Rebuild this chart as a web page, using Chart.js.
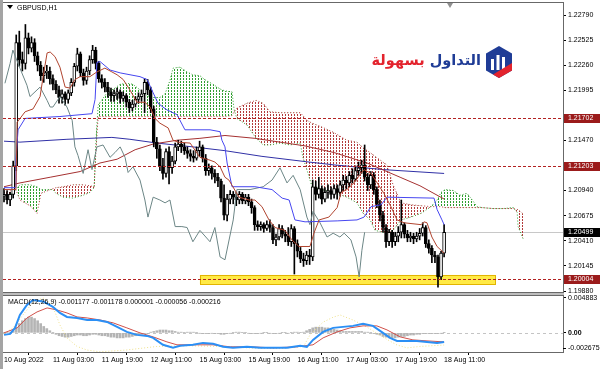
<!DOCTYPE html>
<html>
<head>
<meta charset="utf-8">
<script src="https://cdn.jsdelivr.net/npm/chart.js@4.4.0/dist/chart.umd.min.js"></script>
<style>
  html, body { margin: 0; padding: 0; background: #fff; }
  #wrap { position: relative; width: 600px; height: 369px; overflow: hidden; background: #fff;
          font-family: "Liberation Sans", Arial, sans-serif; }
  canvas { position: absolute; left: 0; }
  #main { top: 0; }
  #macd { top: 293px; }
  #edge { position: absolute; left: 0; top: 0; width: 3px; height: 369px; background: #a4a4a4; }
  #title { position: absolute; left: 7px; top: 4px; font-size: 7px; color: #000; }
  #title i { display: inline-block; width: 0; height: 0; border-left: 3px solid transparent;
             border-right: 3px solid transparent; border-top: 4px solid #000; margin-right: 4px; vertical-align: 1px; }
  #shift { position: absolute; left: 447px; top: 3px; width: 0; height: 0; border-left: 3px solid transparent;
           border-right: 3px solid transparent; border-top: 5px solid #909090; }
  #logo { position: absolute; right: 119px; top: 52px; direction: rtl; white-space: nowrap;
          font-family: "DejaVu Sans", sans-serif; font-weight: bold; font-size: 14.5px; }
  #logo .b { color: #1f3c96; }
  #logo .r { color: #e3232d; }
  #icon { position: absolute; left: 484px; top: 45px; }
</style>
</head>
<body>
<div id="wrap">
  <canvas id="main" width="600" height="300"></canvas>
  <canvas id="macd" width="600" height="76"></canvas>
  <div id="edge"></div>
  <div id="title"><i></i>GBPUSD,H1</div>
  <div id="shift"></div>
  <div id="logo"><span class="b">التداول</span> <span class="r">بسهولة</span></div>
  <svg id="icon" width="30" height="34" viewBox="0 0 30 34">
    <polygon points="15,1 28,8.5 28,25.5 15,33 2,25.5 2,8.5" fill="#1f3c96"/>
    <rect x="7" y="14" width="3" height="11" fill="#fff"/>
    <rect x="12.5" y="10" width="3" height="15" fill="#fff"/>
    <rect x="18" y="12" width="3" height="13" fill="#fff"/>
    <polygon points="28,18 28,25.5 15,33 9,29.5" fill="#e3232d"/>
  </svg>
</div>
<script>
// --- chart values ---
const timeLabels = ['10 Aug 2022', '11 Aug 03:00', '11 Aug 19:00', '12 Aug 11:00', '15 Aug 03:00',
                    '15 Aug 19:00', '16 Aug 11:00', '17 Aug 03:00', '17 Aug 19:00', '18 Aug 11:00'];
const tickBars = [0, 16, 32, 48, 64, 80, 96, 112, 128, 144];
const priceTicks = [1.22790, 1.22525, 1.22260, 1.21995, 1.21470, 1.20940, 1.20675, 1.20410, 1.20145, 1.19880];
const levels = [1.21702, 1.21203, 1.20004];
const lastPrice = 1.20499;
const zoneBars = [64.1, 160.7];
const zonePrices = [1.20050, 1.19955];

const open = [
  1.2088,1.2090,1.2084,1.2090,1.2120,1.2250,1.2232,1.2228,1.2255,1.2244,
  1.2250,1.2236,1.2226,1.2215,1.2218,1.2220,1.2212,1.2206,1.2200,1.2192,
  1.2196,1.2190,1.2197,1.2208,1.2225,1.2238,1.2218,1.2210,1.2220,1.2232,
  1.2242,1.2228,1.2212,1.2208,1.2203,1.2198,1.2194,1.2196,1.2198,1.2191,
  1.2194,1.2187,1.2181,1.2185,1.2190,1.2193,1.2196,1.2208,1.2200,1.2180,
  1.2145,1.2138,1.2120,1.2112,1.2135,1.2118,1.2125,1.2140,1.2143,1.2140,
  1.2136,1.2133,1.2130,1.2128,1.2136,1.2140,1.2128,1.2115,1.2118,1.2112,
  1.2108,1.2104,1.2086,1.2068,1.2085,1.2090,1.2087,1.2084,1.2090,1.2083,
  1.2087,1.2082,1.2076,1.2058,1.2056,1.2058,1.2054,1.2058,1.2055,1.2042,
  1.2045,1.2054,1.2048,1.2046,1.2040,1.2054,1.2038,1.2030,1.2022,1.2020,
  1.2026,1.2024,1.2098,1.2090,1.2096,1.2085,1.2092,1.2094,1.2090,1.2096,
  1.2092,1.2100,1.2105,1.2102,1.2110,1.2106,1.2115,1.2118,1.2121,1.2108,
  1.2100,1.2110,1.2095,1.2080,1.2068,1.2055,1.2040,1.2050,1.2040,1.2046,
  1.2050,1.2058,1.2048,1.2044,1.2046,1.2043,1.2046,1.2049,1.2055,1.2038,
  1.2033,1.2026,1.2024,1.2003,1.2028];
const high = [
  1.2096,1.2094,1.2092,1.2125,1.2258,1.2262,1.2240,1.2269,1.2260,1.2256,
  1.2254,1.2240,1.2230,1.2224,1.2226,1.2224,1.2216,1.2210,1.2204,1.2200,
  1.2198,1.2200,1.2212,1.2228,1.2244,1.2240,1.2222,1.2224,1.2236,1.2247,
  1.2245,1.2230,1.2216,1.2212,1.2208,1.2202,1.2200,1.2202,1.2200,1.2198,
  1.2196,1.2190,1.2189,1.2193,1.2197,1.2200,1.2212,1.2211,1.2203,1.2183,
  1.2150,1.2142,1.2128,1.2138,1.2140,1.2130,1.2144,1.2147,1.2146,1.2144,
  1.2140,1.2137,1.2136,1.2140,1.2146,1.2142,1.2132,1.2122,1.2120,1.2116,
  1.2112,1.2106,1.2100,1.2090,1.2094,1.2093,1.2092,1.2093,1.2092,1.2090,
  1.2090,1.2085,1.2078,1.2062,1.2061,1.2060,1.2062,1.2063,1.2058,1.2048,
  1.2058,1.2057,1.2052,1.2055,1.2058,1.2056,1.2042,1.2034,1.2028,1.2030,
  1.2032,1.2105,1.2104,1.2108,1.2099,1.2097,1.2100,1.2098,1.2100,1.2100,
  1.2104,1.2110,1.2109,1.2114,1.2117,1.2120,1.2124,1.2126,1.2142,1.2112,
  1.2114,1.2113,1.2098,1.2084,1.2072,1.2058,1.2053,1.2052,1.2050,1.2056,
  1.2084,1.2060,1.2052,1.2050,1.2049,1.2050,1.2054,1.2060,1.2057,1.2042,
  1.2036,1.2030,1.2026,1.2030,1.2058];
const low = [
  1.2082,1.2080,1.2078,1.2086,1.2115,1.2225,1.2220,1.2222,1.2238,1.2240,
  1.2230,1.2220,1.2210,1.2208,1.2212,1.2206,1.2200,1.2196,1.2186,1.2186,
  1.2184,1.2186,1.2194,1.2204,1.2220,1.2214,1.2205,1.2206,1.2216,1.2228,
  1.2222,1.2208,1.2202,1.2198,1.2192,1.2188,1.2188,1.2190,1.2186,1.2188,
  1.2182,1.2176,1.2178,1.2182,1.2186,1.2188,1.2176,1.2195,1.2176,1.2140,
  1.2128,1.2115,1.2106,1.2108,1.2101,1.2112,1.2122,1.2136,1.2134,1.2132,
  1.2128,1.2125,1.2124,1.2126,1.2130,1.2124,1.2110,1.2110,1.2106,1.2102,
  1.2098,1.2082,1.2063,1.2062,1.2080,1.2080,1.2078,1.2080,1.2080,1.2080,
  1.2078,1.2070,1.2052,1.2052,1.2052,1.2050,1.2052,1.2050,1.2038,1.2036,
  1.2042,1.2044,1.2040,1.2036,1.2035,1.2006,1.2024,1.2018,1.2014,1.2016,
  1.2016,1.2020,1.2084,1.2086,1.2080,1.2082,1.2086,1.2085,1.2086,1.2085,
  1.2088,1.2094,1.2096,1.2098,1.2102,1.2104,1.2110,1.2112,1.2104,1.2094,
  1.2096,1.2090,1.2076,1.2062,1.2050,1.2034,1.2036,1.2034,1.2036,1.2040,
  1.2044,1.2044,1.2040,1.2040,1.2038,1.2040,1.2042,1.2046,1.2034,1.2028,
  1.2018,1.2018,1.1992,1.2000,1.2024];
const close = [
  1.2090,1.2084,1.2090,1.2120,1.2250,1.2232,1.2228,1.2255,1.2244,1.2250,
  1.2236,1.2226,1.2215,1.2218,1.2220,1.2212,1.2206,1.2200,1.2192,1.2196,
  1.2190,1.2197,1.2208,1.2225,1.2238,1.2218,1.2210,1.2220,1.2232,1.2242,
  1.2228,1.2212,1.2208,1.2203,1.2198,1.2194,1.2196,1.2198,1.2191,1.2194,
  1.2187,1.2181,1.2185,1.2190,1.2193,1.2196,1.2208,1.2200,1.2180,1.2145,
  1.2138,1.2120,1.2112,1.2135,1.2118,1.2125,1.2140,1.2143,1.2140,1.2136,
  1.2133,1.2130,1.2128,1.2136,1.2140,1.2128,1.2115,1.2118,1.2112,1.2108,
  1.2104,1.2086,1.2068,1.2085,1.2090,1.2087,1.2084,1.2090,1.2083,1.2087,
  1.2082,1.2076,1.2058,1.2056,1.2058,1.2054,1.2058,1.2055,1.2042,1.2045,
  1.2054,1.2048,1.2046,1.2040,1.2054,1.2038,1.2030,1.2022,1.2020,1.2026,
  1.2024,1.2098,1.2090,1.2096,1.2085,1.2092,1.2094,1.2090,1.2096,1.2092,
  1.2100,1.2105,1.2102,1.2110,1.2106,1.2115,1.2118,1.2121,1.2108,1.2100,
  1.2110,1.2095,1.2080,1.2068,1.2055,1.2040,1.2050,1.2040,1.2046,1.2050,
  1.2058,1.2048,1.2044,1.2046,1.2043,1.2046,1.2049,1.2055,1.2038,1.2033,
  1.2026,1.2024,1.2003,1.2028,1.2050];

// ichimoku lines as [bar, price]
const tenkan = [[0,1.2095],[3.9,1.2095],[4.3,1.2166],[6.9,1.2177],[9.5,1.2180],[11.8,1.2193],[12.8,1.2214],
  [14.1,1.2239],[15.1,1.2240],[16.7,1.2235],[18.3,1.2224],[20,1.2203],[21.6,1.2202],[23.2,1.2211],[24.9,1.2214],
  [28.1,1.2214],[30.4,1.2219],[33,1.2223],[35.3,1.2219],[37,1.2216],[39,1.2211],[41.2,1.2200],[43.5,1.2187],
  [46.1,1.2187],[47.8,1.2182],[49.4,1.2170],[51,1.2165],[53.7,1.2160],[55.3,1.2147],[56.9,1.2145],[60.9,1.2144],
  [64.1,1.2129],[67.4,1.2126],[69,1.2124],[70.7,1.2119],[72.3,1.2108],[73.6,1.2105],[76.9,1.2087],[80.2,1.2084],
  [82.1,1.2084],[84.4,1.2077],[86.7,1.2063],[88.7,1.2055],[91.9,1.2052],[94.2,1.2042],[96.5,1.2035],[100.1,1.2035],
  [101.4,1.2049],[103.1,1.2063],[106.3,1.2066],[109,1.2076],[110.3,1.2092],[112.2,1.2095],[114.5,1.2102],
  [116.8,1.2112],[117.8,1.2116],[120.1,1.2112],[122.1,1.2102],[124.3,1.2091],[126.6,1.2077],[128.6,1.2063],
  [130.9,1.2060],[136.5,1.2058],[137.4,1.2061],[138.4,1.2060],[140,1.2045],[141.7,1.2035],[144,1.2028]];
const kijun = [[0,1.2097],[3.6,1.2097],[3.9,1.2126],[4.6,1.2158],[6.9,1.2170],[18.3,1.2172],[28.8,1.2175],
  [29.8,1.2190],[30.4,1.2229],[31.4,1.2230],[34.7,1.2221],[38,1.2218],[44.5,1.2214],[46.8,1.2211],[48.8,1.2197],
  [50.4,1.2186],[52,1.2182],[53.3,1.2179],[56.6,1.2174],[59.2,1.2158],[67.4,1.2158],[70.7,1.2156],[71.3,1.2147],
  [72.3,1.2140],[73,1.2123],[74.6,1.2098],[82.1,1.2098],[87.7,1.2095],[91,1.2086],[93.3,1.2084],[95.2,1.2063],
  [98.5,1.2061],[109,1.2062],[115.5,1.2063],[117.8,1.2066],[120.1,1.2077],[123.4,1.2079],[125.3,1.2087],
  [140.7,1.2086],[141.7,1.2074],[143.3,1.2063],[144,1.2058]];
const chikou = [[0.3,1.2207],[2,1.2228],[2.9,1.2242],[5.2,1.2223],[7.5,1.2205],[8.5,1.2193],[10.8,1.2200],
  [11.8,1.2203],[14.1,1.2189],[15.1,1.2182],[16,1.2182],[18.3,1.2193],[20.6,1.2182],[22.3,1.2168],[23.2,1.2140],
  [24.2,1.2131],[25.9,1.2112],[27.5,1.2137],[28.8,1.2116],[30.4,1.2140],[32.4,1.2142],[34.7,1.2129],[36.3,1.2134],
  [38,1.2140],[39.6,1.2129],[40.6,1.2113],[42.2,1.2119],[44.5,1.2105],[46.1,1.2084],[47.1,1.2066],[48.8,1.2087],
  [51,1.2084],[52.7,1.2081],[54.3,1.2084],[56,1.2056],[58.2,1.2056],[59.9,1.2055],[61.8,1.2040],[64.1,1.2052],
  [67.4,1.2040],[69,1.2055],[70.7,1.2024],[72.3,1.2021],[75,1.2063],[76.2,1.2095],[80.5,1.2095],[84.8,1.2098],
  [87.7,1.2105],[90.3,1.2118],[92.6,1.2102],[94.6,1.2110],[96.9,1.2095],[99.1,1.2066],[100.1,1.2058],
  [101.1,1.2072],[103.4,1.2060],[105.7,1.2045],[107.7,1.2049],[109.9,1.2045],[111.3,1.2049],[113.5,1.2042],
  [115.2,1.2024],[116.2,1.2003],[117.1,1.2031],[118,1.2050]];
// cloud as [bar, span A, span B]
const cloud = [[0,1.2084,1.2092],[3.9,1.2095,1.2095],[5.2,1.2100,1.2084],[8.5,1.2100,1.2078],[10.8,1.2098,1.2070],
  [12.1,1.2095,1.2091],[16,1.2095,1.2096],[17,1.2091,1.2097],[19.3,1.2087,1.2098],[22.6,1.2086,1.2100],
  [25.9,1.2089,1.2100],[28.1,1.2092,1.2099],[29.5,1.2097,1.2098],[30.1,1.2147,1.2137],[30.8,1.2184,1.2172],
  [33.7,1.2197,1.2172],[36.3,1.2202,1.2172],[38,1.2206,1.2172],[40.2,1.2207,1.2172],[42.2,1.2206,1.2172],
  [44.5,1.2200,1.2172],[46.8,1.2194,1.2172],[49,1.2192,1.2172],[51,1.2192,1.2172],[52.7,1.2196,1.2172],
  [54.3,1.2210,1.2172],[55.3,1.2223,1.2172],[57.6,1.2224,1.2172],[59.9,1.2219,1.2172],[61.8,1.2216,1.2172],
  [64.1,1.2215,1.2172],[66.1,1.2210,1.2172],[68.4,1.2206,1.2172],[70.7,1.2201,1.2172],[72.3,1.2199,1.2172],
  [74.6,1.2198,1.2173],[75.3,1.2179,1.2177],[76.2,1.2170,1.2181],[79.5,1.2163,1.2186],[82.5,1.2149,1.2189],
  [84.8,1.2142,1.2186],[87,1.2142,1.2177],[90.3,1.2144,1.2176],[93.6,1.2142,1.2176],[96.9,1.2144,1.2176],
  [97.8,1.2129,1.2173],[99.1,1.2116,1.2168],[100.8,1.2098,1.2165],[104,1.2095,1.2161],[108,1.2092,1.2155],
  [112.2,1.2087,1.2147],[115.5,1.2081,1.2145],[117.5,1.2070,1.2139],[119.8,1.2063,1.2134],[121.4,1.2052,1.2130],
  [125.3,1.2049,1.2121],[127.3,1.2052,1.2100],[129.9,1.2063,1.2081],[133.2,1.2066,1.2079],[136.5,1.2070,1.2078],
  [139.7,1.2077,1.2077],[141.7,1.2084,1.2077],[143,1.2092,1.2077],[144.3,1.2095,1.2076],[147,1.2094,1.2076],
  [149.2,1.2089,1.2076],[151.5,1.2091,1.2076],[152.5,1.2087,1.2076],[154.8,1.2077,1.2076],[156.4,1.2076,1.2076],
  [160,1.2075,1.2075],[163.3,1.2075,1.2075],[166.6,1.2076,1.2075],[167.9,1.2071,1.2074],[168.2,1.2056,1.2074],
  [170,1.2042,1.2069]];
// long moving averages
const maRed = [[0,1.2098],[5.2,1.2102],[15.1,1.2108],[24.9,1.2114],[31.4,1.2123],[37,1.2127],[42.9,1.2137],
  [48.8,1.2143],[56.6,1.2147],[64.1,1.2149],[72.3,1.2152],[82.1,1.2149],[90.3,1.2145],[98.5,1.2141],[108,1.2134],
  [118.8,1.2123],[129.6,1.2108],[136.1,1.2099],[144,1.2085]];
const maBlue = [[0,1.2146],[5.2,1.2145],[20.6,1.2148],[35.3,1.2150],[41.2,1.2148],[50.1,1.2144],[61.8,1.2140],
  [72.3,1.2136],[84.4,1.2130],[99.8,1.2124],[108,1.2121],[124.3,1.2116],[144,1.2112]];

// MACD panel
const macdTicks = [0.004883, 0];
const macdBottomLabel = '-0.002675';
const macdText = 'MACD(12,26,9) -0.001177 -0.001178 0.000001 -0.000056 -0.000216';
const macdHist = [
  0.00005,0.00005,0.0001,0.0003,0.0008,0.0013,0.0017,0.0020,0.0022,0.0022,
  0.0020,0.0017,0.0013,0.0009,0.0006,0.0003,0.00005,-0.0002,-0.0004,-0.0005,
  -0.0006,-0.0006,-0.0005,-0.0004,-0.0003,-0.0003,-0.0004,-0.0004,-0.0003,-0.0002,
  -0.0002,-0.0003,-0.0004,-0.0004,-0.0005,-0.0006,-0.0006,-0.0007,-0.0007,-0.0007,
  -0.0006,-0.0006,-0.0005,-0.0004,-0.0003,-0.0002,-0.0001,-0.0001,0.0001,0.0002,
  0.0003,0.0004,0.0004,0.0004,0.0003,0.0003,0.0002,0.0001,0.0001,0.00005,
  0.0001,0.0001,0.0001,0.00005,-0.00005,-0.0001,-0.0001,-0.0001,-0.00005,-0.0001,
  -0.0001,-0.0002,-0.0002,-0.0001,-0.00005,0.00005,0.0001,0.0001,0.00005,0.00005,
  -0.00005,-0.0001,-0.0001,-0.0001,-0.00005,0.00005,0.00005,-0.00005,-0.0001,-0.0001,
  -0.00005,0.00005,0.00005,-0.00005,0.00005,0.0001,0.0001,0.00005,0.0001,0.0003,
  0.0005,0.0007,0.0008,0.0008,0.0008,0.0007,0.0007,0.0006,0.0005,0.0004,
  0.0003,0.0002,0.0002,0.0002,0.0002,0.0002,0.0002,0.0002,0.0001,0.0001,
  0.00005,-0.0001,-0.0002,-0.0003,-0.0005,-0.0006,-0.0007,-0.0007,-0.0007,-0.0006,
  -0.0005,-0.0005,-0.0004,-0.0003,-0.0003,-0.0002,-0.0002,-0.0001,-0.0001,-0.0001,
  -0.0001,-0.0001,-0.0001,-0.00005,0.00005];
const macdMain = [[0,-0.00028],[2,-0.00014],[3.6,0.0007],[5.2,0.0025],[7.5,0.0039],[9.5,0.0046],[12.8,0.0044],
  [16,0.00363],[18.3,0.00279],[20.6,0.00223],[23.9,0.00209],[27.2,0.00181],[30.4,0.00181],[33.7,0.00153],
  [37,0.00084],[40.2,0.00014],[43.5,-0.00028],[46.8,-0.00042],[48.8,-0.0007],[52,-0.00167],[55.3,-0.00209],
  [57.6,-0.00181],[61.8,-0.00167],[65.1,-0.0014],[68.4,-0.00153],[71.7,-0.00195],[74.9,-0.00209],[79.5,-0.00195],
  [83.8,-0.00209],[92.6,-0.00209],[96.9,-0.00181],[99.1,-0.00195],[101.1,-0.00098],[104.4,0.00014],[107.7,0.0007],
  [110.9,0.00084],[114.2,0.00098],[117.5,0.00126],[120.7,0.00098],[124,0],[126.3,-0.0007],[128.6,-0.00112],
  [135.1,-0.00112],[138.4,-0.00126],[141.7,-0.0014],[144,-0.00126]];
const macdSignal = [[0,0],[4.3,0.0007],[7.5,0.00209],[10.8,0.00293],[14.1,0.00349],[17.3,0.00321],[20.6,0.00279],
  [23.9,0.00223],[27.2,0.00209],[31.4,0.00181],[35.7,0.0014],[40.2,0.0007],[44.5,0],[48.8,-0.00056],[53.3,-0.00126],
  [56.6,-0.00167],[68.4,-0.00167],[74,-0.00195],[80.5,-0.00195],[88,-0.00209],[95.9,-0.00195],[101.1,-0.00167],
  [104.4,-0.0007],[109,0.00014],[113.2,0.0007],[117.5,0.00098],[122,0.00098],[125.3,0.00042],[129.6,-0.00056],
  [133.8,-0.00098],[138.4,-0.00112],[144,-0.00126]];
const macdExtra = [[0,-0.00014],[3,0.0007],[6,0.0024],[9.5,0.0043],[12.8,0.00488],[15,0.0042],[16.7,0.0029],
  [18.3,0.0011],[20.6,-0.0007],[23.9,-0.0019],[27.2,-0.0024],[31.4,-0.00265],[40,-0.0024],[50,-0.0019],
  [60,-0.0018],[70,-0.0019],[80,-0.0021],[90,-0.0022],[98,-0.0019],[100.1,-0.0003],[104.4,0.0015],[107.7,0.0022],
  [110,0.0025],[114.2,0.0018],[118.8,0.0008],[124,-0.0006],[128.6,-0.0017],[131.9,-0.0021],[136,-0.0019],[144,-0.0017]];

// --- helpers ---
Chart.defaults.font.family = '"Liberation Sans", Arial, sans-serif';
Chart.defaults.color = '#000';
const FONT = { size: 7 };
const X_MIN = -0.33, X_MAX = 182.9;

const pts = arr => arr.map(p => ({ x: p[0], y: p[1] }));

function hatch(ctx, color) {
    const c = document.createElement('canvas');
    c.width = 3; c.height = 3;
    const g = c.getContext('2d');
    g.fillStyle = color;
    g.fillRect(0, 0, 1, 2);
    return ctx.createPattern(c, 'repeat');
}

function noPad(s) {
    s.paddingTop = 0; s.paddingBottom = 0; s.paddingLeft = 0; s.paddingRight = 0;
}

function hLine(ctx, a, yPix, color, dash) {
    const yy = Math.round(yPix) + 0.5;
    ctx.strokeStyle = color;
    ctx.lineWidth = 1;
    ctx.setLineDash(dash);
    ctx.beginPath();
    ctx.moveTo(a.left, yy);
    ctx.lineTo(a.right, yy);
    ctx.stroke();
    ctx.setLineDash([]);
}

function frame(ctx, a, color) {
    ctx.strokeStyle = color;
    ctx.lineWidth = 1;
    ctx.strokeRect(a.left - 0.5, a.top - 0.5, a.right - a.left + 1, a.bottom - a.top + 1);
}

// --- main price panel ---
const mainCtx = document.getElementById('main').getContext('2d');
const greenHatch = hatch(mainCtx, '#2f9e2f');
const redHatch = hatch(mainCtx, '#b33a3a');

const mainDecor = {
    id: 'mainDecor',
    beforeDatasetsDraw(chart) {
        const { ctx, chartArea: a, scales: { x, y } } = chart;
        ctx.save();
        const zx1 = x.getPixelForValue(zoneBars[0]), zx2 = x.getPixelForValue(zoneBars[1]);
        const zy1 = y.getPixelForValue(zonePrices[0]), zy2 = y.getPixelForValue(zonePrices[1]);
        ctx.fillStyle = '#ffea45';
        ctx.fillRect(zx1, zy1, zx2 - zx1, zy2 - zy1);
        ctx.strokeStyle = '#e2b400';
        ctx.strokeRect(Math.round(zx1) + 0.5, Math.round(zy1) + 0.5, Math.round(zx2 - zx1), Math.round(zy2 - zy1));
        hLine(ctx, a, y.getPixelForValue(lastPrice), '#c8c8c8', []);
        ctx.restore();
    },
    afterDatasetsDraw(chart) {
        const { ctx, chartArea: a, scales: { y } } = chart;
        ctx.save();
        levels.forEach(v => hLine(ctx, a, y.getPixelForValue(v), '#b22222', [3, 2]));
        ctx.restore();
    },
    afterDraw(chart) {
        const { ctx, chartArea: a, scales: { y } } = chart;
        ctx.save();
        frame(ctx, a, '#686868');
        const boxes = levels.map(v => [v, '#9b1b1b']).concat([[lastPrice, '#000000']]);
        ctx.font = '7px "Liberation Sans", Arial, sans-serif';
        ctx.textBaseline = 'middle';
        boxes.forEach(([v, col]) => {
            const yy = Math.round(y.getPixelForValue(v));
            ctx.fillStyle = col;
            ctx.fillRect(a.right + 1, yy - 4, 600 - a.right - 1, 9);
            ctx.fillStyle = '#fff';
            ctx.fillText(v.toFixed(5), a.right + 5, yy + 0.5);
        });
        ctx.restore();
    }
};

const lineDs = (data, color, order, extra) => Object.assign({
    type: 'line', data: pts(data), borderColor: color, borderWidth: 1,
    pointRadius: 0, fill: false, tension: 0, order: order
}, extra || {});

new Chart(mainCtx, {
    type: 'bar',
    data: {
        datasets: [
            lineDs(tenkan, '#b0442f', 1),
            lineDs(kijun, '#4646f0', 1),
            lineDs(chikou, '#6c8686', 2),
            {
                label: 'Body',
                data: open.map((o, i) => ({ x: i, y: [o, close[i]] })),
                backgroundColor: c => close[c.dataIndex] >= open[c.dataIndex] ? '#ffffff' : '#000000',
                borderColor: '#000', borderWidth: 1, borderSkipped: false,
                barPercentage: 1, categoryPercentage: 1, maxBarThickness: 3,
                grouped: false, minBarLength: 1, order: 3
            },
            {
                label: 'Wick',
                data: low.map((l, i) => ({ x: i, y: [l, high[i]] })),
                backgroundColor: '#000',
                barPercentage: 1, categoryPercentage: 1, maxBarThickness: 1,
                grouped: false, order: 4
            },
            lineDs(maRed, '#a53030', 5),
            lineDs(maBlue, '#3030a6', 5),
            {
                type: 'line', label: 'Span A',
                data: cloud.map(c => ({ x: c[0], y: c[1] })),
                borderColor: '#2f9e2f', borderWidth: 1, borderDash: [1, 2], pointRadius: 0,
                fill: { target: '+1', above: greenHatch, below: redHatch }, order: 8
            },
            {
                type: 'line', label: 'Span B',
                data: cloud.map(c => ({ x: c[0], y: c[2] })),
                borderColor: '#b33a3a', borderWidth: 1, borderDash: [1, 2], pointRadius: 0,
                fill: false, order: 9
            }
        ]
    },
    options: {
        responsive: false,
        animation: false,
        devicePixelRatio: 1,
        layout: { padding: { left: 3, top: 3, right: 0, bottom: 8 } },
        plugins: { legend: { display: false }, tooltip: { enabled: false } },
        scales: {
            x: { type: 'linear', min: X_MIN, max: X_MAX, offset: false, display: false },
            y: {
                type: 'linear', position: 'right', min: 1.198704, max: 1.229165, beginAtZero: false,
                afterBuildTicks: s => { s.ticks = priceTicks.map(v => ({ value: v })); },
                afterFit: s => { s.width = 37; noPad(s); },
                ticks: { font: FONT, padding: 2, callback: v => v.toFixed(5) },
                grid: { drawOnChartArea: false, tickLength: 3, color: '#000' },
                border: { display: false }
            }
        }
    },
    plugins: [mainDecor]
});

// --- MACD panel ---
const macdDecor = {
    id: 'macdDecor',
    beforeDatasetsDraw(chart) {
        const { ctx, chartArea: a, scales: { y } } = chart;
        ctx.save();
        hLine(ctx, a, y.getPixelForValue(0), '#c4c4c4', [3, 3]);
        ctx.restore();
    },
    afterDraw(chart) {
        const { ctx, chartArea: a } = chart;
        ctx.save();
        ctx.fillStyle = '#bdbdbd';
        ctx.fillRect(a.left - 1, 0, a.right - a.left + 2, 2);
        frame(ctx, a, '#686868');
        ctx.fillStyle = '#000';
        ctx.font = '7px "Liberation Sans", Arial, sans-serif';
        ctx.textBaseline = 'middle';
        ctx.fillText(macdText, a.left + 5, a.top + 6);
        const by = a.bottom - 4;
        ctx.fillText(macdBottomLabel, a.right + 5, by);
        ctx.strokeStyle = '#000';
        ctx.beginPath();
        ctx.moveTo(a.right, by + 0.5);
        ctx.lineTo(a.right + 3, by + 0.5);
        ctx.stroke();
        ctx.restore();
    }
};

new Chart(document.getElementById('macd').getContext('2d'), {
    type: 'bar',
    data: {
        datasets: [
            {
                type: 'line', data: pts(macdMain), borderColor: '#2b8ff5', borderWidth: 2,
                pointRadius: 0, fill: false, order: 1
            },
            {
                type: 'line', data: pts(macdSignal), borderColor: '#d0504a', borderWidth: 1,
                pointRadius: 0, fill: false, order: 2
            },
            {
                type: 'line', data: pts(macdExtra), borderColor: '#eee08a', borderWidth: 1, borderDash: [1, 2],
                pointRadius: 0, fill: false, order: 3
            },
            {
                data: macdHist.map((v, i) => ({ x: i, y: v })),
                backgroundColor: '#b4b4b4',
                barPercentage: 1, categoryPercentage: 1, maxBarThickness: 2,
                grouped: false, order: 4
            }
        ]
    },
    options: {
        responsive: false,
        animation: false,
        devicePixelRatio: 1,
        layout: { padding: { left: 3, top: 3, right: 0, bottom: 0 } },
        plugins: { legend: { display: false }, tooltip: { enabled: false } },
        scales: {
            x: {
                type: 'linear', min: X_MIN, max: X_MAX, offset: false,
                afterBuildTicks: s => { s.ticks = tickBars.map(v => ({ value: v })); },
                afterFit: s => { s.height = 17; noPad(s); },
                ticks: {
                    font: FONT, padding: 1, align: 'start', maxRotation: 0, autoSkip: false,
                    callback: v => timeLabels[tickBars.indexOf(v)]
                },
                grid: { drawOnChartArea: false, tickLength: 3, color: '#000' },
                border: { display: false }
            },
            y: {
                type: 'linear', position: 'right', min: -0.002675, max: 0.00516, beginAtZero: false,
                afterBuildTicks: s => { s.ticks = macdTicks.map(v => ({ value: v })); },
                afterFit: s => { s.width = 37; noPad(s); },
                ticks: {
                    font: c => ({ size: 7, weight: c.tick && c.tick.value === 0 ? 'bold' : 'normal' }),
                    padding: 2,
                    callback: v => v === 0 ? '0.00' : v.toFixed(6)
                },
                grid: { drawOnChartArea: false, tickLength: 3, color: '#000' },
                border: { display: false }
            }
        }
    },
    plugins: [macdDecor]
});
</script>
</body>
</html>
